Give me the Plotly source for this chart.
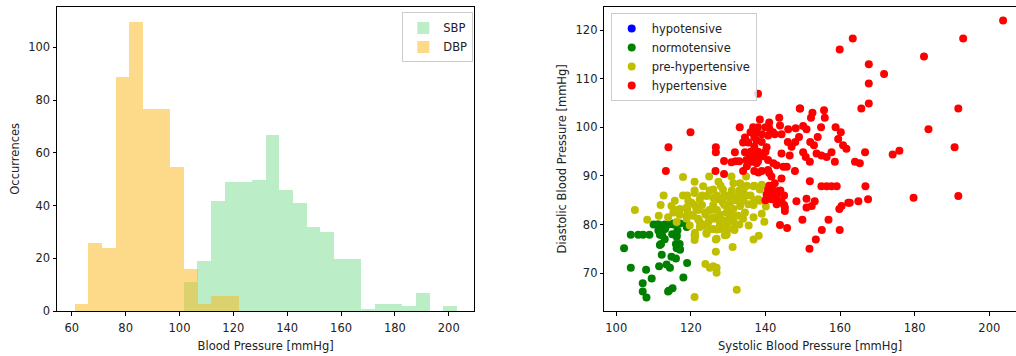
import plotly.graph_objects as go

# ---------------- Histogram data ----------------
sbp_bin_start = 101.6
dbp_bin_start = 61.1
bin_width = 5.07
sbp_counts = [11, 19, 42, 49, 49, 50, 67, 46, 41, 32, 30, 20, 20, 1, 3, 3, 2, 7, 0, 2]
dbp_counts = [3, 26, 24, 89, 110, 77, 77, 55, 16, 3, 6, 6]

# ---------------- Scatter data ----------------
hyper_sbp = [203.7, 163.4, 193.0, 159.9, 182.5, 167.7, 171.8, 167.7, 138.0, 167.7, 165.7, 191.7, 149.3,
             183.7, 190.7, 174.1, 175.9, 179.7, 191.7, 166.8, 119.9, 114.0, 113.3, 126.7, 126.7, 128.9,
             126.6, 128.9, 131.8, 130.9, 134.0, 143.9, 145.8, 145.2, 149.9, 151.8, 153.5, 155.1, 156.9,
             159.9, 162.6, 159.8,
             149.2, 152.6, 155.7, 152.2, 155.9, 138.5, 143.7, 133.1, 136.7, 141.0, 143.9, 146.1, 148.1,
             150.1, 151.0, 154.9, 158.8, 160.2, 159.5, 137.2, 139.0, 140.7, 134.5, 142.5, 144.3, 134.0,
             135.4, 137.6, 140.3, 144.3, 146.5, 150.1, 150.8, 153.0, 153.7, 151.9, 155.0, 156.4, 157.7,
             158.6, 160.8, 161.7, 166.7, 164.0, 165.3, 134.5, 135.8, 137.2, 138.1, 134.9, 136.3, 137.6,
             139.4, 140.7, 142.1, 143.0, 144.8, 145.7, 147.9, 140.7, 138.1, 141.0, 141.6, 144.3, 142.5,
             140.7, 142.1, 143.4, 140.3, 141.6, 144.3, 143.0, 145.2, 148.3, 151.0, 151.9, 155.0, 156.4,
             157.7, 159.1, 153.2, 152.4, 151.0, 162.2, 164.9, 160.4, 167.5,
             136.0, 137.0, 138.0, 139.0, 136.0, 138.0, 140.0, 139.0, 137.0, 135.0, 136.0, 138.0, 140.0,
             141.0, 142.0, 139.0, 137.0, 135.0, 133.0, 132.0, 141.0, 142.0, 143.0, 144.0, 145.0, 141.0,
             140.0, 143.0, 145.0, 146.0, 148.0, 152.0, 154.0, 147.0, 149.0]
hyper_dbp = [122.0, 118.3, 118.3, 116.0, 114.6, 113.0, 111.0, 109.0, 106.9, 104.9, 103.9, 103.9, 103.9,
             99.6, 95.9, 94.4, 95.2, 85.5, 85.9, 87.9, 99.0, 95.9, 91.0, 95.9, 94.9, 93.1,
             91.0, 90.4, 94.9, 92.8, 91.0, 79.9, 79.3, 82.8, 81.0, 75.0, 76.9, 78.9, 81.0,
             78.9, 84.5, 83.2,
             103.9, 103.0, 103.5, 102.0, 102.0, 101.6, 102.0, 100.0, 100.0, 99.8, 100.4, 99.6, 99.8,
             100.3, 99.6, 100.0, 100.0, 99.0, 97.6, 99.0, 98.6, 98.3, 97.9, 98.6, 98.6, 96.9,
             96.9, 97.3, 95.9, 94.6, 94.2, 94.9, 93.9, 96.3, 94.6, 92.9, 94.2, 93.9, 94.9,
             92.9, 96.3, 95.6, 94.9, 92.9, 92.6, 94.9, 94.2, 93.9, 94.9, 93.3, 92.9, 92.6,
             94.2, 93.3, 92.6, 92.2, 91.9, 91.9, 91.0, 91.2, 90.7, 90.6, 89.9, 89.5, 88.5,
             87.2, 86.9, 86.9, 86.2, 85.2, 84.8, 84.2, 83.5, 84.8, 85.3, 88.9, 87.9, 87.9,
             87.9, 87.9, 84.8, 83.8, 83.5, 84.5, 84.8, 83.8, 85.2,
             95.0, 96.0, 95.0, 94.0, 93.0, 93.0, 95.0, 97.0, 98.0, 97.0, 99.0, 100.0, 100.0,
             101.0, 99.0, 91.0, 91.0, 92.0, 93.0, 93.0, 88.0, 87.0, 86.0, 87.0, 86.0, 86.0,
             85.0, 85.0, 84.0, 97.0, 97.0, 97.0, 98.0, 96.0, 98.0]

pre_sbp = [105.0, 108.3, 111.4, 112.7, 111.9, 115.7, 117.9, 117.9, 121.0, 124.9, 127.4, 130.9, 134.8,
           121.0, 123.3, 126.0, 128.6, 133.2, 136.8, 139.0, 138.5, 133.2, 131.4, 130.5, 128.6, 126.0,
           124.2, 122.4, 120.2, 118.9, 117.1, 115.3, 113.9, 116.2, 118.9, 120.6, 122.0, 123.3, 124.7,
           126.0, 127.8, 129.6, 131.4, 133.2, 135.4, 136.8, 138.5, 140.1, 138.1, 139.0, 139.7, 135.5,
           134.0, 131.4, 129.6, 127.8, 126.0, 124.2, 121.0, 121.0, 126.7, 126.7, 129.6, 131.7, 131.2,
           136.8, 138.2, 123.9, 125.1, 126.9, 126.9, 132.3, 121.0, 126.0, 123.8, 121.5, 131.4, 134.1,
           129.6, 127.4, 119.3, 114.8, 122.4, 119.7, 134.5, 132.7, 136.8, 126.0, 121.1, 121.1, 124.2,
           122.4, 125.1, 127.8, 129.6, 131.4, 126.5, 128.7, 118.9, 129.1, 126.9,
           119.0, 120.0, 121.0, 122.0, 123.0, 124.0, 125.0, 126.0, 127.0, 128.0, 129.0, 130.0, 131.0,
           132.0, 133.0, 134.0, 135.0, 136.0, 137.0, 122.0, 123.0, 125.0, 127.0, 128.0, 130.0, 132.0,
           133.0, 117.0, 116.0, 119.0, 121.0, 123.0, 125.0, 127.0, 129.0, 131.0, 133.0, 135.0, 137.0,
           130.0, 128.0]
pre_dbp = [83.0, 81.0, 81.8, 86.0, 84.0, 84.9, 89.8, 86.0, 88.8, 89.9, 88.8, 89.9, 89.9,
           86.5, 87.9, 87.2, 87.2, 88.5, 87.9, 88.2, 87.2, 86.2, 85.9, 84.5, 84.5, 85.5,
           85.9, 85.2, 84.5, 83.5, 83.2, 82.5, 81.5, 80.5, 81.8, 81.8, 81.2, 79.8, 80.5,
           81.5, 81.8, 82.5, 83.2, 83.8, 84.2, 84.0, 84.9, 83.7, 85.2, 82.2, 80.6, 79.8,
           81.2, 80.6, 79.8, 80.1, 79.1, 78.3, 77.8, 76.8, 76.9, 74.4, 77.9, 78.9, 75.4,
           76.9, 77.7, 71.9, 71.1, 71.1, 70.1, 66.6, 65.1, 83.2, 82.5, 83.2, 88.5, 87.2,
           85.9, 85.2, 84.9, 83.8, 80.5, 79.8, 82.5, 81.8, 81.5, 71.4, 77.5, 78.3, 78.1,
           79.5, 79.1, 79.1, 78.5, 79.1, 81.2, 80.8, 81.2, 77.8, 77.1,
           83.0, 82.0, 84.0, 83.0, 84.0, 82.0, 83.0, 84.0, 83.0, 82.0, 84.0, 83.0, 82.0,
           85.0, 86.0, 85.0, 86.0, 86.0, 85.0, 81.0, 80.0, 81.0, 79.0, 80.0, 81.0, 80.0,
           80.0, 82.0, 83.0, 86.0, 87.0, 86.0, 87.0, 86.0, 86.0, 87.0, 87.0, 88.0, 88.0,
           86.0, 88.0]

normo_sbp = [103.9, 105.9, 107.2, 108.9, 102.1, 103.9, 107.1, 107.1, 108.1, 109.5, 108.0, 111.3,
             111.3, 111.7, 111.7, 112.2, 111.5, 113.5, 114.4, 114.8, 116.2, 116.6, 117.1, 116.2,
             116.4, 115.3, 117.1, 118.9, 119.0, 118.0, 115.1, 113.9, 111.5, 113.1, 112.3, 116.2,
             114.1, 111.4, 115.3, 118.9,
             112.0, 113.0, 114.0, 115.0, 116.0, 117.0, 112.0, 111.0, 110.0, 113.0, 117.0, 116.0]
normo_dbp = [77.9, 77.9, 77.9, 77.9, 75.1, 71.1, 67.9, 66.2, 65.0, 68.9, 70.7, 79.8,
             78.8, 77.9, 75.8, 73.8, 71.4, 71.8, 71.1, 73.4, 75.1, 75.8, 74.8, 77.8,
             78.8, 80.2, 80.2, 79.5, 72.1, 69.1, 66.9, 66.2, 79.5, 79.1, 77.8, 77.5,
             66.4, 80.0, 80.0, 80.0,
             79.0, 80.0, 80.0, 78.0, 76.0, 76.0, 76.0, 80.0, 80.0, 77.0, 75.0, 73.0]

hypo_sbp = [None]
hypo_dbp = [None]

# ---------------- Figure ----------------
W, H = 1016, 356
FONT = "DejaVu Sans"
FS = 11.5
TXT = "#222222"

fig = go.Figure()

fig.add_trace(go.Bar(
    x=[sbp_bin_start + (i + 0.5) * bin_width for i in range(len(sbp_counts))],
    y=sbp_counts, width=bin_width, name="SBP",
    marker=dict(color="rgba(119,221,143,0.5)", line=dict(width=0)),
    xaxis="x", yaxis="y", legend="legend"))
fig.add_trace(go.Bar(
    x=[dbp_bin_start + (i + 0.5) * bin_width for i in range(len(dbp_counts))],
    y=dbp_counts, width=bin_width, name="DBP",
    marker=dict(color="rgba(251,179,21,0.5)", line=dict(width=0)),
    xaxis="x", yaxis="y", legend="legend"))

for name, xs, ys, col in [("hypotensive", hypo_sbp, hypo_dbp, "#0000ff"),
                          ("normotensive", normo_sbp, normo_dbp, "#008000"),
                          ("pre-hypertensive", pre_sbp, pre_dbp, "#bfbf00"),
                          ("hypertensive", hyper_sbp, hyper_dbp, "#ff0000")]:
    fig.add_trace(go.Scatter(
        x=xs, y=ys, mode="markers", name=name,
        marker=dict(color=col, size=8, line=dict(width=0)),
        xaxis="x2", yaxis="y2", legend="legend2"))

ydom = [1 - 317.3 / H, 1 - 6.7 / H]
axis_common = dict(showgrid=False, zeroline=False, showline=True, linecolor="black", linewidth=1,
                   ticks="outside", ticklen=3.5, tickwidth=1, tickcolor="black",
                   tickfont=dict(family=FONT, size=FS, color=TXT),
                   title_font=dict(family=FONT, size=FS, color=TXT))

fig.update_layout(
    width=W, height=H, margin=dict(l=0, r=0, t=0, b=0),
    paper_bgcolor="white", plot_bgcolor="white",
    barmode="overlay", bargap=0,
    font=dict(family=FONT, size=FS, color=TXT),
    xaxis=dict(domain=[57 / W, 474.3 / W], range=[54.5, 209.5], anchor="y", mirror=True,
               tickvals=[60, 80, 100, 120, 140, 160, 180, 200], ticklabelstandoff=3,
               title=dict(text="Blood Pressure [mmHg]", standoff=7), **axis_common),
    yaxis=dict(domain=ydom, range=[0, 115.5], anchor="x", mirror=True,
               tickvals=[0, 20, 40, 60, 80, 100],
               title=dict(text="Occurrences", standoff=6), **axis_common),
    xaxis2=dict(domain=[604.3 / W, 1.0], range=[96.8, 207.16], anchor="y2", mirror=True,
                tickvals=[100, 120, 140, 160, 180, 200], ticklabelstandoff=3,
                title=dict(text="Systolic Blood Pressure [mmHg]", standoff=7), **axis_common),
    yaxis2=dict(domain=ydom, range=[62.2, 124.85], anchor="x2", mirror=False,
                tickvals=[70, 80, 90, 100, 110, 120],
                title=dict(text="Diastolic Blood Pressure [mmHg]", standoff=6), **axis_common),
    legend=dict(x=402.3 / W, y=1 - 12.7 / H, xanchor="left", yanchor="top",
                bgcolor="rgba(255,255,255,0.8)", bordercolor="#cccccc", borderwidth=1,
                font=dict(family=FONT, size=FS, color=TXT), tracegroupgap=0,
                itemwidth=30),
    legend2=dict(x=610.7 / W, y=1 - 13.3 / H, xanchor="left", yanchor="top",
                 bgcolor="rgba(255,255,255,0.8)", bordercolor="#cccccc", borderwidth=1,
                 font=dict(family=FONT, size=FS, color=TXT), tracegroupgap=0,
                 itemwidth=30),
)

fig.write_html("out.html")
